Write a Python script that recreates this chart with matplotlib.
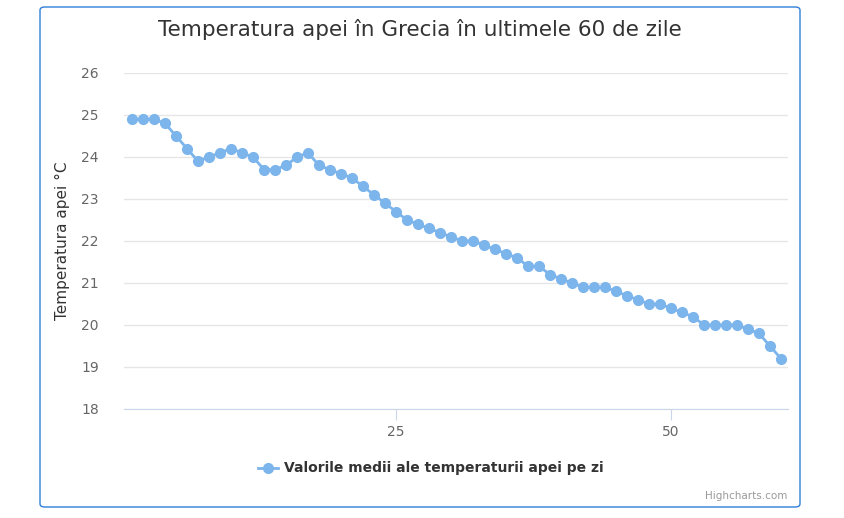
import matplotlib
matplotlib.use("Agg")
import matplotlib.pyplot as plt
from matplotlib.patches import FancyBboxPatch

days = list(range(1, 61))
temps = [24.9, 24.9, 24.9, 24.8, 24.5, 24.2, 23.9, 24.0, 24.1, 24.2,
         24.1, 24.0, 23.7, 23.7, 23.8, 24.0, 24.1, 23.8, 23.7, 23.6,
         23.5, 23.3, 23.1, 22.9, 22.7, 22.5, 22.4, 22.3, 22.2, 22.1,
         22.0, 22.0, 21.9, 21.8, 21.7, 21.6, 21.4, 21.4, 21.2, 21.1,
         21.0, 20.9, 20.9, 20.9, 20.8, 20.7, 20.6, 20.5, 20.5, 20.4,
         20.3, 20.2, 20.0, 20.0, 20.0, 20.0, 19.9, 19.8, 19.5, 19.2]
yticks = [18, 19, 20, 21, 22, 23, 24, 25, 26]
xticks = [25, 50]

W, H = 845, 518
fig = plt.figure(figsize=(W/100, H/100), dpi=100)
fig.patches.append(FancyBboxPatch((40/W, 1-507/H), 760/W, 500/H, boxstyle="round,pad=0,rounding_size=0.006",
                                  transform=fig.transFigure, fc="none", ec="#2f7ed8", lw=1))
ax = fig.add_axes([124/W, 1-409/H, 664/W, 336/H])
ax.plot(days, temps, color="#7cb5ec", lw=2, marker="o", ms=7, zorder=3, clip_on=False)
ax.set_xlim(0.27, 60.64); ax.set_ylim(18, 26)
ax.set_yticks(yticks); ax.set_xticks(xticks)
ax.grid(axis="y", color="#e6e6e6", lw=1)
for s in ["top", "right", "left"]:
    ax.spines[s].set_visible(False)
ax.spines["bottom"].set_color("#ccd6eb")
ax.tick_params(axis="y", length=0, labelsize=10, colors="#666666", pad=18)
ax.tick_params(axis="x", length=8, color="#ccd6eb", labelsize=10, colors="#666666")
ax.set_ylabel("Temperatura apei °C", fontsize=11, color="#333333", labelpad=8)
fig.text(420/W, 1-29/H, "Temperatura apei în Grecia în ultimele 60 de zile", ha="center", va="center",
         fontsize=15.5, color="#333333")
fig.lines.append(plt.Line2D([258/W, 278/W], [1-468/H]*2, color="#7cb5ec", lw=2,
                            transform=fig.transFigure))
fig.lines.append(plt.Line2D([268/W], [1-468/H], color="#7cb5ec", marker="o", ms=7,
                            transform=fig.transFigure))
fig.text(284/W, 1-468/H, "Valorile medii ale temperaturii apei pe zi", va="center", fontsize=10,
         fontweight="bold", color="#333333")
fig.text(787/W, 1-496/H, "Highcharts.com", ha="right", va="center", fontsize=7.5, color="#999999")
fig.savefig("out.png", dpi=100)
